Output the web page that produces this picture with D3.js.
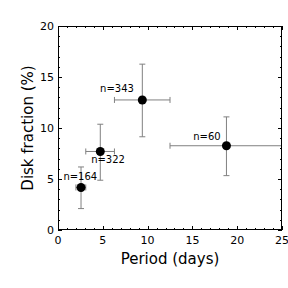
<!DOCTYPE html>
<html>
<head>
<meta charset="utf-8">
<script src="https://cdn.jsdelivr.net/npm/d3@7"></script>
<style>
  body { margin: 0; background: #fff; }
  text { font-family: "DejaVu Sans", sans-serif; }
</style>
</head>
<body>
<svg id="chart" width="288" height="288"></svg>
<script>
// bins of period, disk fraction with errors
var period = [2.57, 4.72, 9.41, 18.8];
var periodLo = [2.0, 3.1, 6.3, 12.5];
var periodHi = [3.1, 6.3, 12.5, 30];
var diskFrac = [4.17, 7.7, 12.75, 8.26];
var fracLo = [2.1, 4.88, 9.14, 5.33];
var fracHi = [6.18, 10.37, 16.26, 11.09];
var labels = ['n=164', 'n=322', 'n=343', 'n=60'];
var labelX = [0.6, 3.7, 4.7, 15.1];
var labelY = [4.9, 6.6, 13.5, 8.8];
var xTicks = [0, 5, 10, 15, 20, 25];
var yTicks = [0, 5, 10, 15, 20];

var svg = d3.select('#chart');
var pLeft = 58, pRight = 282, pTop = 26, pBottom = 230;

var x = d3.scaleLinear().domain([0, 25]).range([pLeft, pRight]);
var y = d3.scaleLinear().domain([0, 20]).range([pBottom, pTop]);

svg.append('defs').append('clipPath').attr('id', 'clip')
   .append('rect').attr('x', pLeft).attr('y', pTop)
   .attr('width', pRight - pLeft).attr('height', pBottom - pTop);

// ticks on all sides, pointing in
function tickSet(axis, scale, vals, len) {
	var g = svg.append('g').attr('stroke', '#000').attr('stroke-width', 1);
	vals.forEach(function(v) {
		var p = Math.round(scale(v)) + 0.5;
		if (axis == 'x') {
			g.append('line').attr('x1', p).attr('x2', p).attr('y1', pBottom).attr('y2', pBottom - len);
			g.append('line').attr('x1', p).attr('x2', p).attr('y1', pTop).attr('y2', pTop + len);
		} else {
			g.append('line').attr('y1', p).attr('y2', p).attr('x1', pLeft).attr('x2', pLeft + len);
			g.append('line').attr('y1', p).attr('y2', p).attr('x1', pRight).attr('x2', pRight - len);
		}
	});
}
tickSet('x', x, d3.range(0, 26, 1), 2);
tickSet('x', x, xTicks, 4);
tickSet('y', y, d3.range(0, 21, 1), 2);
tickSet('y', y, yTicks, 4);

var data = period.map(function(d, i) {
	return {x: d, xl: periodLo[i], xh: periodHi[i], y: diskFrac[i], yl: fracLo[i], yh: fracHi[i],
	        name: labels[i], lx: labelX[i], ly: labelY[i]};
});

var eb = svg.append('g').attr('clip-path', 'url(#clip)')
            .attr('stroke', '#808080').attr('stroke-width', 1).attr('fill', 'none');
data.forEach(function(d) {
	var cx = x(d.x), cy = y(d.y);
	eb.append('line').attr('x1', x(d.xl)).attr('x2', x(d.xh)).attr('y1', cy).attr('y2', cy);
	eb.append('line').attr('x1', cx).attr('x2', cx).attr('y1', y(d.yl)).attr('y2', y(d.yh));
	[d.xl, d.xh].forEach(function(v) {
		eb.append('line').attr('x1', x(v)).attr('x2', x(v)).attr('y1', cy - 3).attr('y2', cy + 3);
	});
	[d.yl, d.yh].forEach(function(v) {
		eb.append('line').attr('y1', y(v)).attr('y2', y(v)).attr('x1', cx - 3).attr('x2', cx + 3);
	});
});

svg.append('g').selectAll('circle')
   .data(data).enter().append('circle')
   .attr('cx', d => x(d.x)).attr('cy', d => y(d.y))
   .attr('r', 4.5).attr('fill', '#000');

svg.append('g').selectAll('text')
   .data(data).enter().append('text')
   .attr('x', d => x(d.lx)).attr('y', d => y(d.ly))
   .style('font-size', '10px').attr('fill', '#000')
   .text(d => d.name);

svg.append('rect').attr('x', pLeft + 0.5).attr('y', pTop + 0.5)
   .attr('width', pRight - pLeft - 1).attr('height', pBottom - pTop - 1)
   .attr('fill', 'none').attr('stroke', '#000').attr('stroke-width', 1);

// tick labels
svg.append('g').selectAll('text').data(xTicks).enter().append('text')
   .attr('x', d => x(d)).attr('y', pBottom + 14)
   .attr('text-anchor', 'middle').style('font-size', '11px').text(d => d);
svg.append('g').selectAll('text').data(yTicks).enter().append('text')
   .attr('x', pLeft - 4).attr('y', d => y(d)).attr('dy', '0.35em')
   .attr('text-anchor', 'end').style('font-size', '11px').text(d => d);

svg.append('text').attr('x', (pLeft + pRight) / 2).attr('y', 264)
   .attr('text-anchor', 'middle').style('font-size', '15px').text('Period (days)');
svg.append('text')
   .attr('transform', 'translate(33,' + ((pTop + pBottom) / 2) + ') rotate(-90)')
   .attr('text-anchor', 'middle').style('font-size', '15px').text('Disk fraction (%)');
</script>
</body>
</html>
